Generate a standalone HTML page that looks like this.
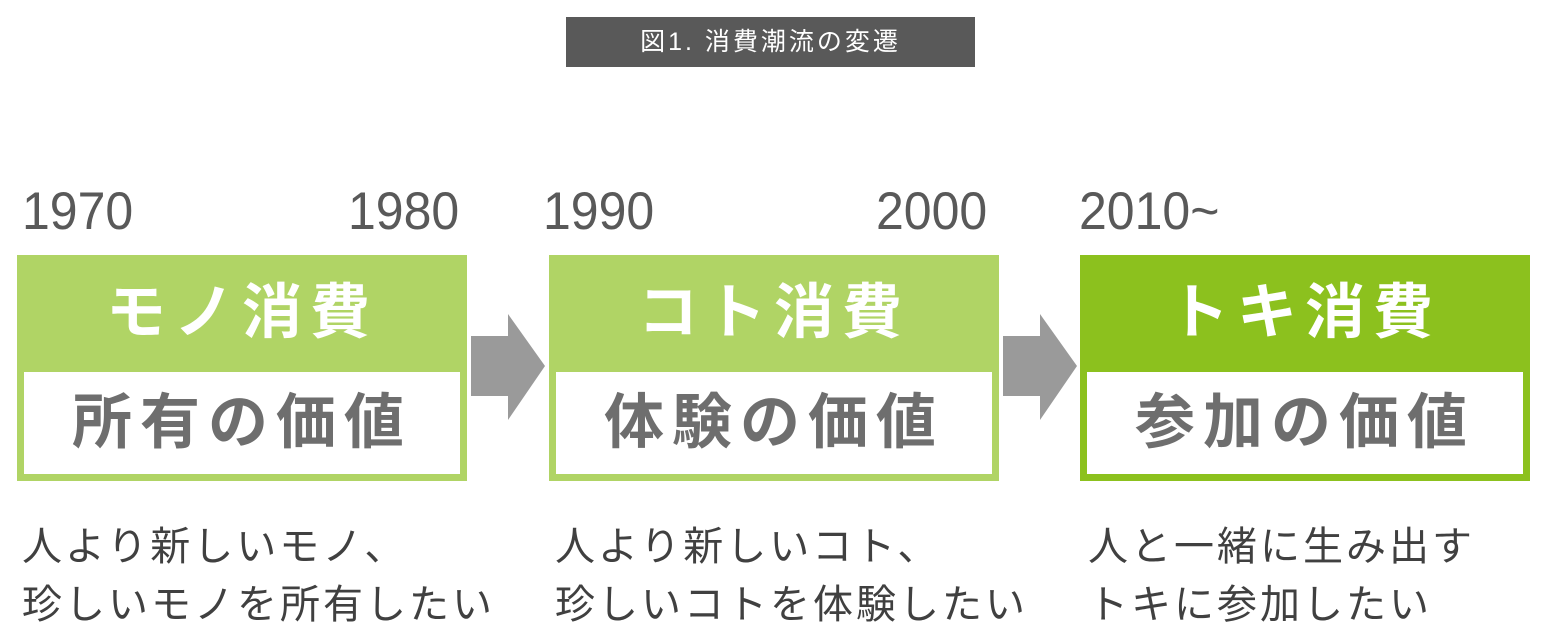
<!DOCTYPE html>
<html><head><meta charset="utf-8"><style>
body{margin:0;width:1544px;height:642px;background:#fff;position:relative;overflow:hidden;font-family:"Liberation Sans","Noto Sans CJK JP",sans-serif;}
.a{position:absolute;}
.title{left:566px;top:17px;width:409px;height:50px;background:#595959;color:#fff;font-size:25px;line-height:50px;text-align:center;letter-spacing:3px;}
.yr{font-size:50px;color:#595959;top:183px;line-height:56px;transform:scaleY(1.05);}
.box{top:255px;width:450px;height:226px;}
.box .h{position:absolute;left:0;top:0;width:100%;height:115px;color:#fff;font-weight:bold;font-size:60px;text-align:center;line-height:115px;letter-spacing:8px;}
.box .w{position:absolute;left:7px;top:117px;width:436px;height:102px;background:#fff;color:#6e6e6e;font-weight:bold;font-size:60px;text-align:center;line-height:102px;letter-spacing:8px;}
.lg{background:#b0d465;}
.dg{background:#8cc11e;}
.txt{font-size:40px;color:#404040;line-height:58px;top:518px;letter-spacing:3px;}
</style></head><body>
<div class="a title">図1. 消費潮流の変遷</div>
<div class="a yr" style="left:22px">1970</div>
<div class="a yr" style="left:348px">1980</div>
<div class="a yr" style="left:543px">1990</div>
<div class="a yr" style="left:876px">2000</div>
<div class="a yr" style="left:1079px">2010~</div>
<div class="a box lg" style="left:17px"><div class="h">モノ消費</div><div class="w">所有の価値</div></div>
<div class="a box lg" style="left:549px"><div class="h">コト消費</div><div class="w">体験の価値</div></div>
<div class="a box dg" style="left:1080px"><div class="h">トキ消費</div><div class="w">参加の価値</div></div>
<svg class="a" style="left:0;top:0" width="1544" height="642">
<polygon points="471,336 508,336 508,314 545,366 508,420 508,396 471,396" fill="#9a9a9a"/>
<polygon points="1003,336 1040,336 1040,314 1077,366 1040,420 1040,396 1003,396" fill="#9a9a9a"/>
</svg>
<div class="a txt" style="left:22px">人より新しいモノ、<br>珍しいモノを所有したい</div>
<div class="a txt" style="left:555px">人より新しいコト、<br>珍しいコトを体験したい</div>
<div class="a txt" style="left:1088px">人と一緒に生み出す<br>トキに参加したい</div>
</body></html>
